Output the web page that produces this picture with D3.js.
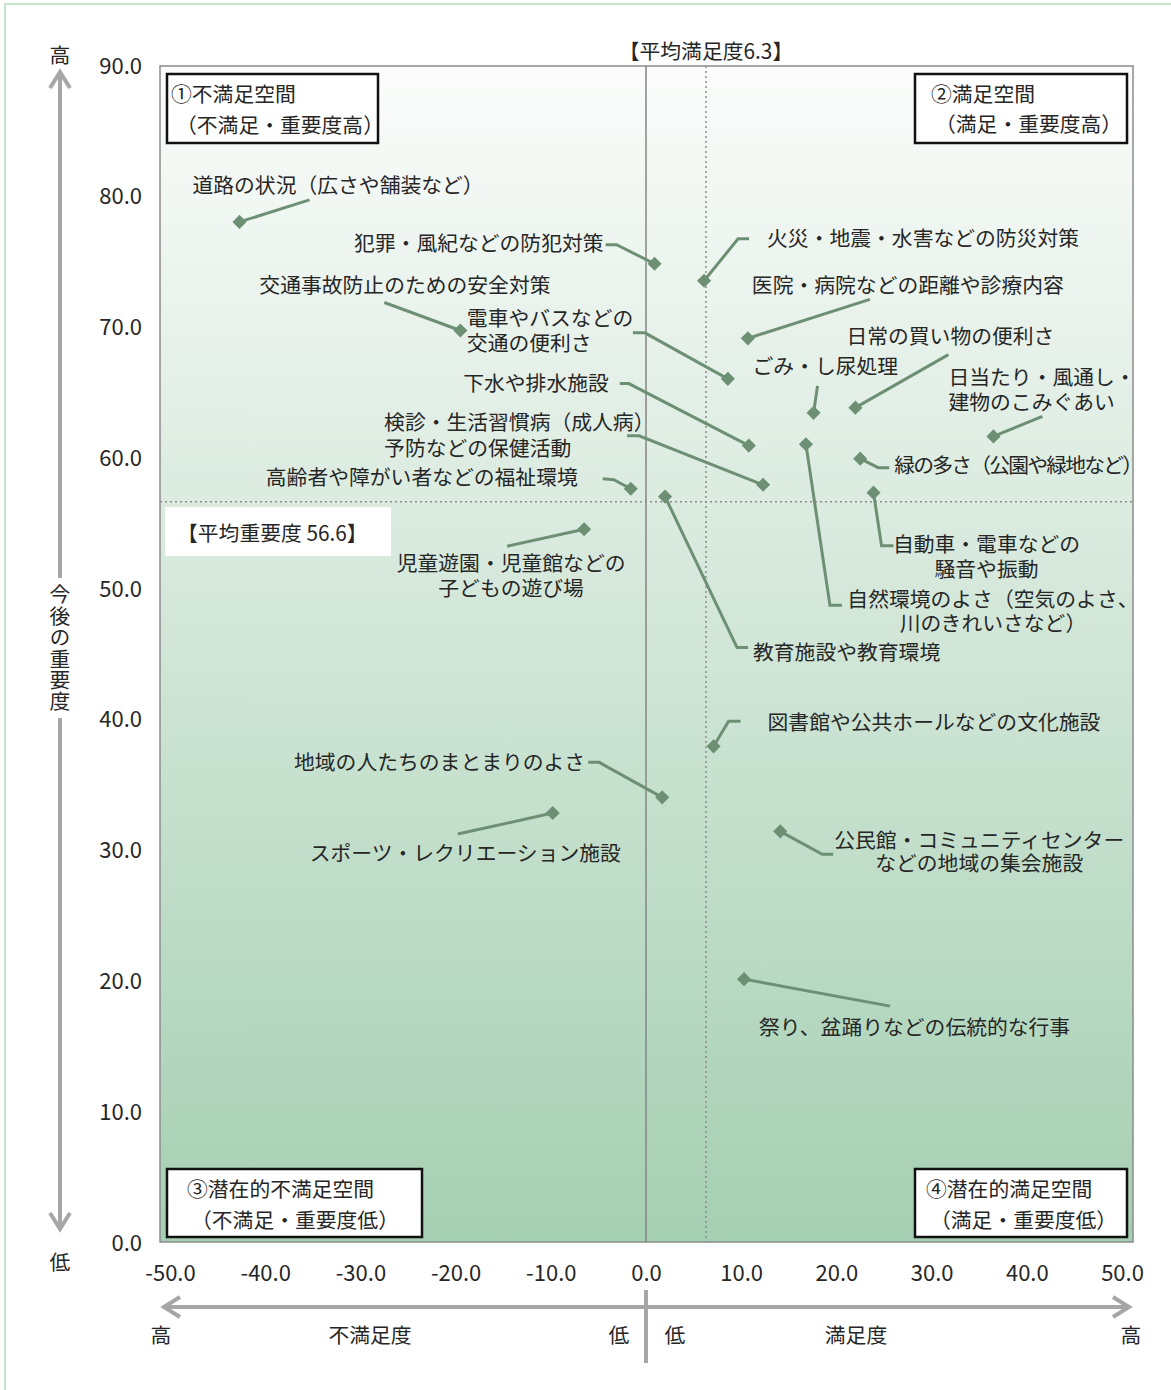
<!DOCTYPE html>
<html><head><meta charset="utf-8">
<script src="https://cdn.jsdelivr.net/npm/d3@7"></script>
<style>
html,body{margin:0;padding:0;background:#fff;}
svg text{font-family:"Noto Sans CJK JP","Noto Sans",sans-serif;fill:#262626;}
svg text.ml{font-family:"Liberation Sans","Noto Sans CJK JP",sans-serif;}
</style></head>
<body><svg id="chart" width="1171" height="1390"></svg>
<script>
// ---- data ----
const items = [
  "道路の状況（広さや舗装など）",
  "犯罪・風紀などの防犯対策",
  "火災・地震・水害などの防災対策",
  "交通事故防止のための安全対策",
  "医院・病院などの距離や診療内容",
  "電車やバスなどの交通の便利さ",
  "日常の買い物の便利さ",
  "ごみ・し尿処理",
  "日当たり・風通し・建物のこみぐあい",
  "下水や排水施設",
  "自然環境のよさ（空気のよさ、川のきれいさなど）",
  "緑の多さ（公園や緑地など）",
  "検診・生活習慣病（成人病）予防などの保健活動",
  "高齢者や障がい者などの福祉環境",
  "教育施設や教育環境",
  "自動車・電車などの騒音や振動",
  "児童遊園・児童館などの子どもの遊び場",
  "図書館や公共ホールなどの文化施設",
  "地域の人たちのまとまりのよさ",
  "スポーツ・レクリエーション施設",
  "公民館・コミュニティセンターなどの地域の集会施設",
  "祭り、盆踊りなどの伝統的な行事"
];
const satisfaction = [-42.7, 0.9, 6.1, -19.5, 10.7, 8.6, 22.0, 17.6, 36.5, 10.8, 16.8, 22.5, 12.3, -1.6, 2.0, 23.9, -6.5, 7.1, 1.7, -9.8, 14.1, 10.3];
const importance   = [78.0, 74.8, 73.5, 69.7, 69.1, 66.0, 63.8, 63.4, 61.6, 60.9, 61.0, 59.9, 57.9, 57.6, 57.0, 57.3, 54.5, 37.9, 34.0, 32.8, 31.4, 20.1];
const xTicks = [-50, -40, -30, -20, -10, 0, 10, 20, 30, 40, 50];
const yTicks = [0, 10, 20, 30, 40, 50, 60, 70, 80, 90];
const avgSatisfaction = 6.3;
const avgImportance = 56.6;

// ---- annotation layout (pixel offsets from each marker) ----
const labelLayout = [
  {leader:[[70,-22]], tx:-47, lines:["道路の状況（広さや舗装など）"], dy:[-36], anchor:"start"},
  {leader:[[-38,-19],[-49,-19]], tx:-51, lines:["犯罪・風紀などの防犯対策"], dy:[-20], anchor:"end"},
  {leader:[[34,-42],[45,-42]], tx:63, lines:["火災・地震・水害などの防災対策"], dy:[-42], anchor:"start"},
  {leader:[[-76,-28]], tx:-201, lines:["交通事故防止のための安全対策"], dy:[-45], anchor:"start"},
  {leader:[[122,-39]], tx:4, lines:["医院・病院などの距離や診療内容"], dy:[-53], anchor:"start"},
  {leader:[[-83,-46],[-95,-46]], tx:-261, lines:["電車やバスなどの","交通の便利さ"], dy:[-60,-35], anchor:"start"},
  {leader:[[93,-53]], tx:-9, lines:["日常の買い物の便利さ"], dy:[-71], anchor:"start"},
  {leader:[[4,-27]], tx:-61, lines:["ごみ・し尿処理"], dy:[-46], anchor:"start"},
  {leader:[[49,-20]], tx:-45, lines:["日当たり・風通し・","建物のこみぐあい"], dy:[-59,-34], anchor:"start"},
  {leader:[[-120,-62],[-129,-62]], tx:-140, lines:["下水や排水施設"], dy:[-62], anchor:"end"},
  {leader:[[24,161],[36,161]], tx:187, lines:["自然環境のよさ（空気のよさ、","川のきれいさなど）"], dy:[155,179], anchor:"middle"},
  {leader:[[18,9],[29,9]], tx:34, lines:["緑の多さ（公園や緑地など）"], dy:[7], anchor:"start", ls:-1.8},
  {leader:[[-124,-49],[-136,-49]], tx:-379, lines:["検診・生活習慣病（成人病）","予防などの保健活動"], dy:[-62,-36], anchor:"start"},
  {leader:[[-17,-9],[-28,-10]], tx:-53, lines:["高齢者や障がい者などの福祉環境"], dy:[-11], anchor:"end"},
  {leader:[[72,151],[83,151]], tx:88, lines:["教育施設や教育環境"], dy:[156], anchor:"start"},
  {leader:[[8,53],[20,53]], tx:113, lines:["自動車・電車などの","騒音や振動"], dy:[52,77], anchor:"middle"},
  {leader:[[-77,17]], tx:-73, lines:["児童遊園・児童館などの","子どもの遊び場"], dy:[34,59], anchor:"middle"},
  {leader:[[15,-25],[27,-25]], tx:54, lines:["図書館や公共ホールなどの文化施設"], dy:[-24], anchor:"start"},
  {leader:[[-63,-35],[-74,-35]], tx:-77, lines:["地域の人たちのまとまりのよさ"], dy:[-35], anchor:"end"},
  {leader:[[-95,21]], tx:-243, lines:["スポーツ・レクリエーション施設"], dy:[40], anchor:"start"},
  {leader:[[42,23],[53,23]], tx:199, lines:["公民館・コミュニティセンター","などの地域の集会施設"], dy:[9,32], anchor:"middle"},
  {leader:[[146,27]], tx:15, lines:["祭り、盆踊りなどの伝統的な行事"], dy:[48], anchor:"start"}
];

const points = items.map((name,i)=>({name, sx:satisfaction[i], im:importance[i], lay:labelLayout[i]}));

// ---- drawing ----
const svg = d3.select("#chart");
const FS = 20.8;
const NFS = 22;
const markColor = "#6d9075";
const axisGray = "#a6a6a6";

const x = d3.scaleLinear().domain([-50,50]).range([170,1122]);
const y = d3.scaleLinear().domain([0,90]).range([1242,65]);

// outer frame
svg.append("rect").attr("x",5).attr("y",4).attr("width",1175).attr("height",1400)
  .attr("fill","none").attr("stroke","#b3dcc0").attr("stroke-width",1.5);

// gradient
const defs = svg.append("defs");
const g = defs.append("linearGradient").attr("id","bg").attr("x1",0).attr("y1",0).attr("x2",0).attr("y2",1);
g.append("stop").attr("offset","0%").attr("stop-color","#fbfcfb");
g.append("stop").attr("offset","100%").attr("stop-color","#a5cfb2");

const boxL = x(-50)-10, boxR = x(50)+11, boxT = y(90)+1, boxB = y(0);
svg.append("rect").attr("x",boxL).attr("y",boxT).attr("width",boxR-boxL).attr("height",boxB-boxT)
  .attr("fill","url(#bg)").attr("stroke","#8c8c8c").attr("stroke-width",1.5);

// zero line
svg.append("line").attr("x1",x(0)).attr("x2",x(0)).attr("y1",boxT).attr("y2",boxB)
  .attr("stroke","#858585").attr("stroke-width",1.5);
// average lines
svg.append("line").attr("x1",x(avgSatisfaction)).attr("x2",x(avgSatisfaction)).attr("y1",boxT).attr("y2",boxB)
  .attr("stroke","#8c8c8c").attr("stroke-width",1.5).attr("stroke-dasharray","2,3");
svg.append("line").attr("x1",boxL).attr("x2",boxR).attr("y1",y(avgImportance)).attr("y2",y(avgImportance))
  .attr("stroke","#8c8c8c").attr("stroke-width",1.5).attr("stroke-dasharray","2,3");

// axes
const fmt = d => d.toFixed(1);
const xAx = svg.append("g").attr("transform",`translate(0,${y(0)})`)
  .call(d3.axisBottom(x).tickValues(xTicks).tickFormat(fmt).tickSize(0));
xAx.select(".domain").remove();
xAx.selectAll("text").attr("y",29).attr("dy",null).attr("dominant-baseline","central")
  .style("font-size",NFS+"px").style("font-family",'"Noto Sans CJK JP",sans-serif').attr("fill","#262626");

const yAx = svg.append("g").attr("transform",`translate(150,0)`)
  .call(d3.axisLeft(y).tickValues(yTicks).tickFormat(fmt).tickSize(0));
yAx.select(".domain").remove();
yAx.selectAll("text").attr("x",-8).attr("dy","-2").attr("dominant-baseline","central")
  .style("font-size",NFS+"px").style("font-family",'"Noto Sans CJK JP",sans-serif').attr("fill","#262626");

// leaders
const line = d3.line();
const pg = svg.append("g");
points.forEach(p=>{
  const mx = x(p.sx), my = y(p.im);
  const pts = [[mx,my]].concat(p.lay.leader.map(o=>[mx+o[0],my+o[1]]));
  pg.append("path").attr("d",line(pts)).attr("fill","none").attr("stroke",markColor).attr("stroke-width",3);
});
// markers
pg.selectAll("path.mk").data(points).join("path").attr("class","mk")
  .attr("d",d3.symbol(d3.symbolSquare,100))
  .attr("transform",d=>`translate(${x(d.sx)},${y(d.im)}) rotate(45)`)
  .attr("fill",markColor);
// labels (one text element per label, lines as tspans)
points.forEach(p=>{
  const mx = x(p.sx), my = y(p.im);
  const multi = p.lay.lines.length > 1;
  const t = pg.append("text").attr("class",multi?"ml":null).attr("text-anchor",p.lay.anchor)
    .style("font-size",FS+"px");
  if (p.lay.ls) t.style("letter-spacing",p.lay.ls+"px");
  p.lay.lines.forEach((s,k)=>{
    // baseline placed explicitly: visual centre of CJK glyphs at the given offset
    t.append("tspan").attr("x",mx+p.lay.tx).attr("y",my+p.lay.dy[k]+FS*0.36).text(s);
  });
});

// quadrant boxes
const quads = [
  {x:167,y:74,w:211,h:69,l1:"①不満足空間",l2:"（不満足・重要度高）",x1:171,x2:176,y1:93,y2:124},
  {x:915,y:74,w:212,h:69,l1:"②満足空間",l2:"（満足・重要度高）",x1:931,x2:935,y1:93,y2:123},
  {x:167,y:1169,w:255,h:68,l1:"③潜在的不満足空間",l2:"（不満足・重要度低）",x1:187,x2:191,y1:1188,y2:1219},
  {x:915,y:1169,w:212,h:68,l1:"④潜在的満足空間",l2:"（満足・重要度低）",x1:926,x2:930,y1:1188,y2:1219}
];
quads.forEach(q=>{
  svg.append("rect").attr("x",q.x).attr("y",q.y).attr("width",q.w).attr("height",q.h)
    .attr("fill","#fff").attr("stroke","#111").attr("stroke-width",2.5);
  const t = svg.append("text").attr("dominant-baseline","central").style("font-size",FS+"px");
  t.append("tspan").attr("x",q.x1).attr("y",q.y1).attr("dominant-baseline","central").text(q.l1);
  t.append("tspan").attr("x",q.x2).attr("y",q.y2).attr("dominant-baseline","central").text(q.l2);
});

// average labels
svg.append("rect").attr("x",165).attr("y",507).attr("width",226).attr("height",49).attr("fill","#fff");
svg.append("text").attr("x",177).attr("y",532).attr("dominant-baseline","central").style("font-size",FS+"px")
  .text(`【平均重要度 ${avgImportance}】`);
svg.append("text").attr("x",x(avgSatisfaction)).attr("y",50).attr("text-anchor","middle").attr("dominant-baseline","central")
  .style("font-size",FS+"px").text(`【平均満足度${avgSatisfaction}】`);

// axis arrows
const ag = svg.append("g").attr("stroke",axisGray).attr("stroke-width",4).attr("fill","none").attr("stroke-linecap","butt");
ag.append("line").attr("x1",60).attr("x2",60).attr("y1",72).attr("y2",578);
ag.append("line").attr("x1",60).attr("x2",60).attr("y1",718).attr("y2",1229);
ag.append("path").attr("d","M50,88L60,72L70,88");
ag.append("path").attr("d","M50,1213L60,1229L70,1213");
ag.append("line").attr("x1",165).attr("x2",1128).attr("y1",1307).attr("y2",1307);
ag.append("path").attr("d","M180,1297L164,1307L180,1317");
ag.append("path").attr("d","M1113,1297L1129,1307L1113,1317");
ag.append("line").attr("x1",x(0)).attr("x2",x(0)).attr("y1",1290).attr("y2",1363);

const tl = (t,xx,yy,anc)=>svg.append("text").attr("x",xx).attr("y",yy).attr("text-anchor",anc||"middle")
  .attr("dominant-baseline","central").style("font-size",FS+"px").text(t);
tl("高",60,54); tl("低",60,1261);
svg.append("text").attr("x",60).attr("y",584)
  .style("writing-mode","vertical-rl").style("text-orientation","upright")
  .style("letter-spacing","0.6px").style("font-size",FS+"px").text("今後の重要度");
tl("高",161,1334); tl("不満足度",370,1334); tl("低",619,1334);
tl("低",675,1334); tl("満足度",856,1334); tl("高",1131,1334);
</script></body></html>
